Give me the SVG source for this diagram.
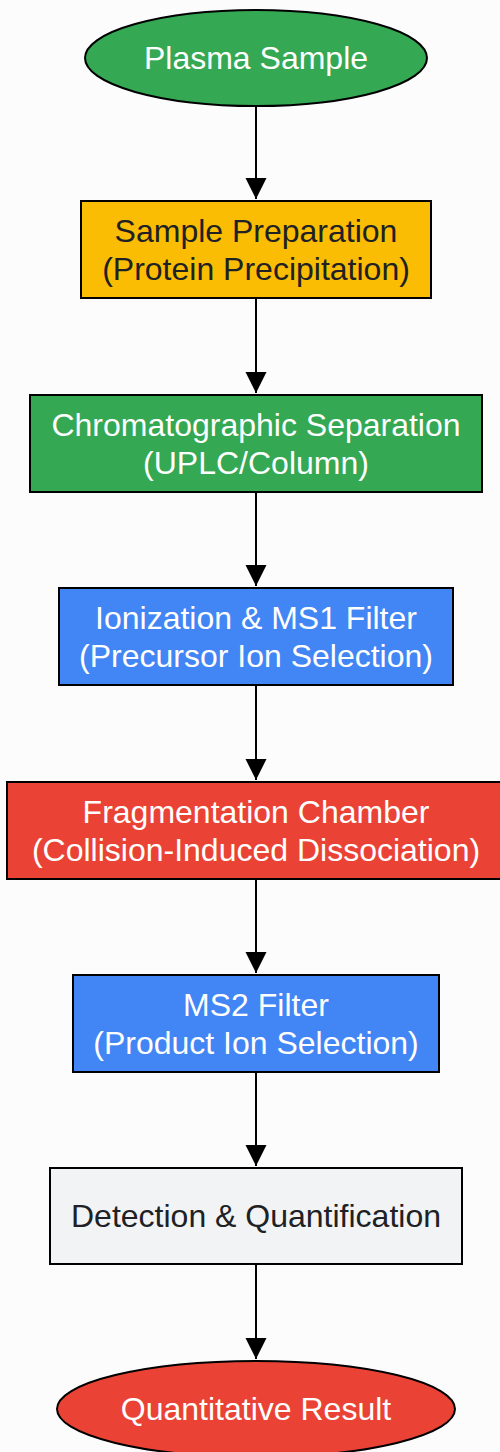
<svg xmlns="http://www.w3.org/2000/svg" width="500" height="1452" viewBox="0 0 500 1452">
<defs>
<marker id="ah" markerWidth="21" markerHeight="31" refX="21" refY="10.5" orient="auto" markerUnits="userSpaceOnUse">
<path d="M0,0 L21,10.5 L0,21 Z" fill="#000"/>
</marker>
</defs>
<style>
.n{stroke:#000;stroke-width:2}
.t{font-family:"Liberation Sans",Arial,sans-serif;font-size:32px;text-anchor:middle}
.w{fill:#fff}
.d{fill:#202124}
.e{stroke:#000;stroke-width:2;fill:none}
</style>
<rect width="500" height="1452" fill="#fcfcfc"/>
<g id="connectors">
<line class="e" x1="256" y1="106" x2="256" y2="199" marker-end="url(#ah)"/>
<line class="e" x1="256" y1="299" x2="256" y2="393" marker-end="url(#ah)"/>
<line class="e" x1="256" y1="493" x2="256" y2="586" marker-end="url(#ah)"/>
<line class="e" x1="256" y1="686" x2="256" y2="780" marker-end="url(#ah)"/>
<line class="e" x1="256" y1="880" x2="256" y2="973" marker-end="url(#ah)"/>
<line class="e" x1="256" y1="1073" x2="256" y2="1166" marker-end="url(#ah)"/>
<line class="e" x1="256" y1="1265" x2="256" y2="1359" marker-end="url(#ah)"/>
</g>
<g id="n1">
<ellipse class="n" cx="256" cy="58" rx="171" ry="48" fill="#34a853"/>
<text class="t w" x="256" y="69">Plasma Sample</text>
</g>
<g id="n2">
<rect class="n" x="81" y="201" width="350" height="97" fill="#fbbc04"/>
<text class="t d" x="256" y="242">Sample Preparation</text>
<text class="t d" x="256" y="280">(Protein Precipitation)</text>
</g>
<g id="n3">
<rect class="n" x="30" y="395" width="452" height="97" fill="#34a853"/>
<text class="t w" x="256" y="436">Chromatographic Separation</text>
<text class="t w" x="256" y="474">(UPLC/Column)</text>
</g>
<g id="n4">
<rect class="n" x="59" y="588" width="394" height="97" fill="#4285f4"/>
<text class="t w" x="256" y="629">Ionization &amp; MS1 Filter</text>
<text class="t w" x="256" y="667">(Precursor Ion Selection)</text>
</g>
<g id="n5">
<rect class="n" x="7" y="782" width="495" height="97" fill="#ea4335"/>
<text class="t w" x="256" y="823">Fragmentation Chamber</text>
<text class="t w" x="256" y="861">(Collision-Induced Dissociation)</text>
</g>
<g id="n6">
<rect class="n" x="73" y="975" width="366" height="97" fill="#4285f4"/>
<text class="t w" x="256" y="1016">MS2 Filter</text>
<text class="t w" x="256" y="1054">(Product Ion Selection)</text>
</g>
<g id="n7">
<rect class="n" x="50" y="1168" width="412" height="96" fill="#f1f3f4"/>
<text class="t d" x="256" y="1227">Detection &amp; Quantification</text>
</g>
<g id="n8">
<ellipse class="n" cx="256" cy="1409" rx="199" ry="48" fill="#ea4335"/>
<text class="t w" x="256" y="1420">Quantitative Result</text>
</g>
</svg>
